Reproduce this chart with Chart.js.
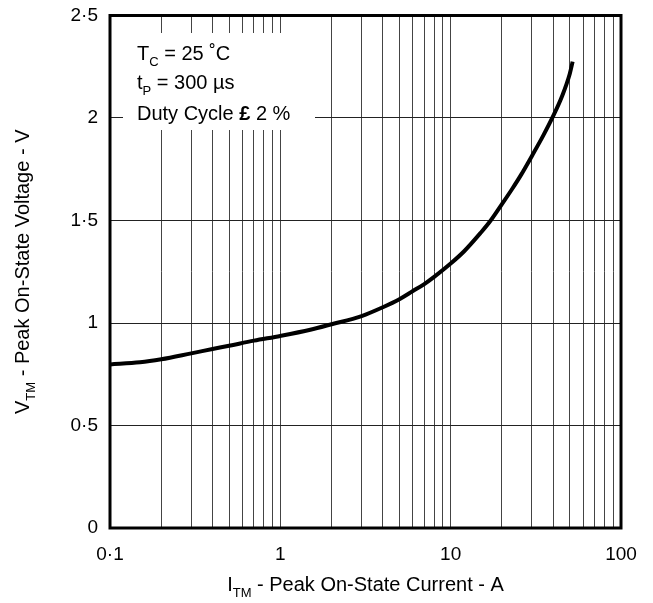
<!DOCTYPE html>
<html>
<head>
<meta charset="utf-8">
<script src="https://cdn.jsdelivr.net/npm/chart.js@4/dist/chart.umd.min.js"></script>
<style>
  body { margin: 0; background: #fff; }
  canvas { display: block; }
</style>
</head>
<body>
<canvas id="grafico" width="653" height="603"></canvas>
<script>
// Datos (corriente en A, tension en V)
const corriente = [0.1, 0.15, 0.2, 0.3, 0.4, 0.5, 0.7, 1, 1.5, 2, 3, 4, 5, 6, 7, 8, 10, 12, 15, 17, 20, 23, 26, 30, 35, 40, 45, 50, 52];
const tension = [0.798, 0.808, 0.823, 0.852, 0.873, 0.889, 0.914, 0.937, 0.967, 0.994, 1.034, 1.077, 1.116, 1.156, 1.19, 1.225, 1.29, 1.35, 1.44, 1.495, 1.58, 1.655, 1.725, 1.815, 1.915, 2.01, 2.105, 2.215, 2.275];

// Marcas de los ejes
const ticksX = [0.1, 0.2, 0.3, 0.4, 0.5, 0.6, 0.7, 0.8, 0.9, 1, 2, 3, 4, 5, 6, 7, 8, 9, 10, 20, 30, 40, 50, 60, 70, 80, 90, 100];
const etiquetasX = { 0.1: '0·1', 1: '1', 10: '10', 100: '100' };
const ticksY = [0, 0.5, 1, 1.5, 2, 2.5];

// Textos
const tituloX = [['I', false], ['TM', true], [' - Peak On-State Current - A', false]];
const tituloY = [['V', false], ['TM', true], [' - Peak On-State Voltage - V', false]];
const notas = [
    [['T', false], ['C', true], [' = 25 ˚C', false]],
    [['t', false], ['P', true], [' = 300 µs', false]],
    [['Duty Cycle ', false], ['£', 'b'], [' 2 %', false]]
];

const FUENTE = "'Liberation Sans', Arial, sans-serif";

function textoRico(ctx, partes, x, y, tam, centrado) {
    const fuente = (p) => (p[1] === 'b' ? 'bold ' : '') + (p[1] === true ? Math.round(tam * 0.65) : tam) + 'px ' + FUENTE;
    let ancho = 0;
    partes.forEach(p => { ctx.font = fuente(p); ancho += ctx.measureText(p[0]).width; });
    let cx = centrado ? x - ancho / 2 : x;
    partes.forEach(p => {
        ctx.font = fuente(p);
        ctx.fillText(p[0], cx, p[1] === true ? y + tam * 0.3 : y);
        cx += ctx.measureText(p[0]).width;
    });
}

const decoracion = {
    id: 'decoracion',
    beforeDatasetsDraw(chart) {
        const ctx = chart.ctx;
        ctx.save();
        // caja blanca de la nota
        ctx.fillStyle = '#fff';
        ctx.fillRect(123, 33, 192, 97);
        ctx.fillStyle = '#000';
        ctx.textBaseline = 'alphabetic';
        ctx.textAlign = 'left';
        textoRico(ctx, notas[0], 137, 60, 20, false);
        textoRico(ctx, notas[1], 137, 89, 20, false);
        textoRico(ctx, notas[2], 137, 120, 20, false);
        ctx.restore();
    },
    afterDraw(chart) {
        const ctx = chart.ctx;
        const a = chart.chartArea;
        ctx.save();
        ctx.strokeStyle = '#000';
        ctx.lineWidth = 3;
        ctx.strokeRect(a.left, a.top, a.right - a.left, a.bottom - a.top);
        ctx.fillStyle = '#000';
        ctx.textAlign = 'left';
        textoRico(ctx, tituloX, (a.left + a.right) / 2, 591, 20, true);
        ctx.translate(29, (a.top + a.bottom) / 2);
        ctx.rotate(-Math.PI / 2);
        textoRico(ctx, tituloY, 0, 0, 20, true);
        ctx.restore();
    }
};

new Chart(document.getElementById('grafico').getContext('2d'), {
    type: 'line',
    data: {
        datasets: [{
            data: corriente.map((c, i) => ({ x: c, y: tension[i] })),
            borderColor: '#000',
            borderWidth: 4,
            pointRadius: 0,
            fill: false,
            cubicInterpolationMode: 'monotone'
        }]
    },
    options: {
        responsive: false,
        animation: false,
        layout: { padding: { top: 15.5, right: 32, left: 0, bottom: 0 } },
        plugins: { legend: { display: false }, tooltip: { enabled: false } },
        scales: {
            x: {
                type: 'logarithmic',
                min: 0.1,
                max: 100,
                afterBuildTicks: (s) => { s.ticks = ticksX.map(v => ({ value: v })); },
                afterFit: (s) => { s.height = 75; s.paddingLeft = 0; s.paddingRight = 0; },
                ticks: {
                    autoSkip: false,
                    maxRotation: 0,
                    padding: 15,
                    color: '#000',
                    font: { family: FUENTE, size: 19 },
                    callback: (v) => etiquetasX[v] || ''
                },
                grid: { color: '#444', lineWidth: 1, drawTicks: false },
                border: { display: false }
            },
            y: {
                min: 0,
                max: 2.5,
                afterBuildTicks: (s) => { s.ticks = ticksY.map(v => ({ value: v })); },
                afterFit: (s) => { s.width = 110; s.paddingTop = 0; s.paddingBottom = 0; },
                ticks: {
                    padding: 12,
                    color: '#000',
                    font: { family: FUENTE, size: 19 },
                    callback: (v) => String(v).replace('.', '·')
                },
                grid: { color: '#222', lineWidth: 1, drawTicks: false },
                border: { display: false }
            }
        }
    },
    plugins: [decoracion]
});
</script>
</body>
</html>
